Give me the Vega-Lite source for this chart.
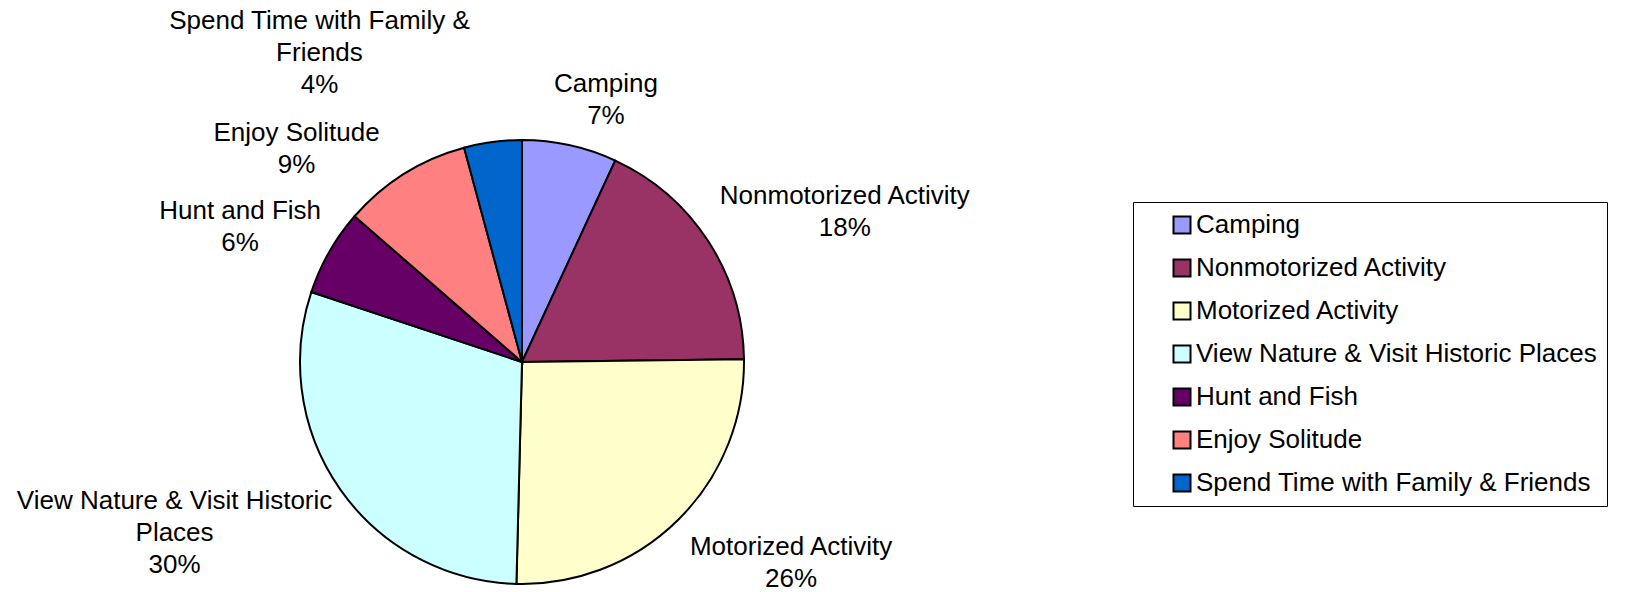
{
  "$schema": "https://vega.github.io/schema/vega-lite/v6.json",
  "autosize": {"type": "none"},
  "padding": {"left": 0, "top": 132, "right": 585, "bottom": 0},
  "width": 1044,
  "height": 460,
  "background": "white",
  "config": {"view": {"stroke": null}, "font": "Liberation Sans"},
  "data": {"values": [
    {"category": "Camping", "label": "Camping", "value": 6.9},
    {"category": "Nonmotorized Activity", "label": "Nonmotorized Activity", "value": 17.9},
    {"category": "Motorized Activity", "label": "Motorized Activity", "value": 25.6},
    {"category": "View Nature & Visit Historic Places", "label": "View Nature & Visit Historic\nPlaces", "value": 29.7},
    {"category": "Hunt and Fish", "label": "Hunt and Fish", "value": 6.3},
    {"category": "Enjoy Solitude", "label": "Enjoy Solitude", "value": 9.4},
    {"category": "Spend Time with Family & Friends", "label": "Spend Time with Family &\nFriends", "value": 4.2}
  ]},
  "transform": [
    {"window": [{"op": "sum", "field": "value", "as": "cum"}], "frame": [null, 0]},
    {"calculate": "datum.cum - datum.value", "as": "start"},
    {"calculate": "datum.cum - datum.value / 2", "as": "mid"},
    {"calculate": "datum.label + '\\n' + round(datum.value) + '%'", "as": "text"}
  ],
  "layer": [
    {
      "mark": {"type": "arc", "outerRadius": 222, "stroke": "black", "strokeWidth": 2},
      "encoding": {
        "theta": {"field": "start", "type": "quantitative", "scale": {"domain": [0, 100]}},
        "theta2": {"field": "cum"},
        "color": {
          "field": "category", "type": "nominal",
          "scale": {
            "domain": ["Camping", "Nonmotorized Activity", "Motorized Activity", "View Nature & Visit Historic Places", "Hunt and Fish", "Enjoy Solitude", "Spend Time with Family & Friends"],
            "range": ["#9999FF", "#993366", "#FFFFCC", "#CCFFFF", "#660066", "#FF8080", "#0066CC"]
          },
          "legend": {
            "title": null,
            "orient": "none",
            "legendX": 1133,
            "legendY": 70,
            "padding": 10,
            "fillColor": "white",
            "strokeColor": "black",
            "symbolType": "square",
            "symbolSize": 289,
            "symbolOffset": 26,
            "symbolStrokeColor": "black",
            "symbolStrokeWidth": 2,
            "symbolOpacity": 1,
            "labelFont": "Liberation Sans",
            "labelFontSize": 26,
            "labelColor": "black",
            "labelLimit": 600,
            "labelOffset": 1,
            "rowPadding": 17
          }
        }
      }
    },
    {
      "transform": [{"filter": "datum.category == 'Camping'"}],
      "mark": {"type": "text", "radius": 274, "dx": 25, "dy": -10, "fontSize": 26, "font": "Liberation Sans", "lineBreak": "\n", "lineHeight": 32, "align": "center", "baseline": "middle", "color": "black"},
      "encoding": {"theta": {"field": "mid", "type": "quantitative"}, "text": {"field": "text"}}
    },
    {
      "transform": [{"filter": "datum.category == 'Nonmotorized Activity'"}],
      "mark": {"type": "text", "radius": 356, "dx": 24, "dy": 28, "fontSize": 26, "font": "Liberation Sans", "lineBreak": "\n", "lineHeight": 32, "align": "center", "baseline": "middle", "color": "black"},
      "encoding": {"theta": {"field": "mid", "type": "quantitative"}, "text": {"field": "text"}}
    },
    {
      "transform": [{"filter": "datum.category == 'Motorized Activity'"}],
      "mark": {"type": "text", "radius": 336, "dx": 33, "dy": -54, "fontSize": 26, "font": "Liberation Sans", "lineBreak": "\n", "lineHeight": 32, "align": "center", "baseline": "middle", "color": "black"},
      "encoding": {"theta": {"field": "mid", "type": "quantitative"}, "text": {"field": "text"}}
    },
    {
      "transform": [{"filter": "datum.category == 'View Nature & Visit Historic Places'"}],
      "mark": {"type": "text", "radius": 388, "dx": -30, "dy": -84, "fontSize": 26, "font": "Liberation Sans", "lineBreak": "\n", "lineHeight": 32, "align": "center", "baseline": "middle", "color": "black"},
      "encoding": {"theta": {"field": "mid", "type": "quantitative"}, "text": {"field": "text"}}
    },
    {
      "transform": [{"filter": "datum.category == 'Hunt and Fish'"}],
      "mark": {"type": "text", "radius": 313, "dx": -10, "dy": 4, "fontSize": 26, "font": "Liberation Sans", "lineBreak": "\n", "lineHeight": 32, "align": "center", "baseline": "middle", "color": "black"},
      "encoding": {"theta": {"field": "mid", "type": "quantitative"}, "text": {"field": "text"}}
    },
    {
      "transform": [{"filter": "datum.category == 'Enjoy Solitude'"}],
      "mark": {"type": "text", "radius": 310, "dx": -61, "dy": 34, "fontSize": 26, "font": "Liberation Sans", "lineBreak": "\n", "lineHeight": 32, "align": "center", "baseline": "middle", "color": "black"},
      "encoding": {"theta": {"field": "mid", "type": "quantitative"}, "text": {"field": "text"}}
    },
    {
      "transform": [{"filter": "datum.category == 'Spend Time with Family & Friends'"}],
      "mark": {"type": "text", "radius": 369, "dx": -154, "dy": 25, "fontSize": 26, "font": "Liberation Sans", "lineBreak": "\n", "lineHeight": 32, "align": "center", "baseline": "middle", "color": "black"},
      "encoding": {"theta": {"field": "mid", "type": "quantitative"}, "text": {"field": "text"}}
    }
  ]
}
